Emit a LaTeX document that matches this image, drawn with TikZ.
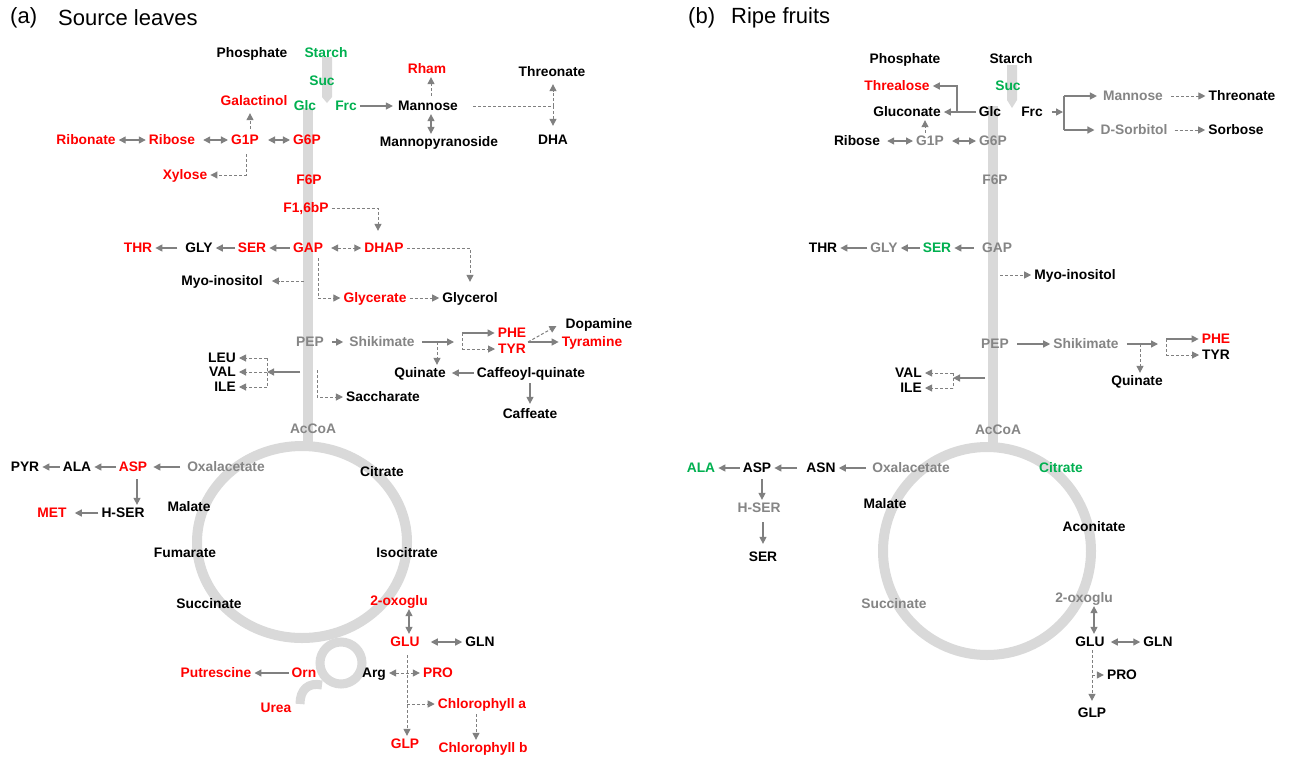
\documentclass[tikz,border=0pt]{standalone}
\usepackage{fontspec}
\setmainfont{Liberation Sans}
\usetikzlibrary{arrows.meta,calc}
\definecolor{cred}{HTML}{FF0000}
\definecolor{cgreen}{HTML}{00B050}
\definecolor{cgray}{HTML}{858585}
\definecolor{cline}{HTML}{808080}
\definecolor{cring}{HTML}{D9D9D9}
\begin{document}
\begin{tikzpicture}[x=1pt,y=-1pt,>={Triangle[length=7pt,width=7pt]},
 lbl/.style={font=\bfseries\fontsize{13.8}{15}\selectfont,inner sep=3pt,text height=9.9pt,text depth=0pt},
 kn/.style={lbl,text=black}, rn/.style={lbl,text=cred}, gn/.style={lbl,text=cgreen}, yn/.style={lbl,text=cgray},
 arr/.style={draw=cline,line width=1.3pt,->},
 biarr/.style={draw=cline,line width=1.3pt,<->},
 ln/.style={draw=cline,line width=1.3pt},
 dsh/.style={line width=1pt,dash pattern=on 3pt off 2pt},
 ring/.style={draw=cring,line width=10pt},
 panel/.style={font=\fontsize{22}{25}\selectfont,anchor=west,inner sep=0pt}]
\useasboundingbox (0,0) rectangle (1290,756);
\fill[white] (0,0) rectangle (1290,756);
% ---------- panel a backbone
\fill[cring] (322,57) -- (332,57) -- (332,97) -- (327,103) -- (322,97) -- cycle;
\draw[cring,line width=10pt] (308,108) -- (308,447);
\draw[ring] (302,542) ellipse [x radius=105pt,y radius=96pt];
\draw[ring,line width=9pt] (341,663) circle [radius=21pt];
\draw[cring,line width=9pt] (322,685) .. controls (308,682) and (300,690) .. (300,704);
% ---------- panel b backbone
\fill[cring] (1007,65) -- (1017,65) -- (1017,100) -- (1012,108) -- (1007,100) -- cycle;
\draw[cring,line width=10pt] (993,106) -- (993,448);
\draw[ring] (987,551) circle [radius=104pt];
% ---------- titles
\node[panel] (aTag) at (10,18) {(a)};
\node[panel] (aHead) at (58,18) {Source leaves};
\node[panel] (bTag) at (688,18) {(b)};
\node[panel] (bHead) at (731,18) {Ripe fruits};
% ---------- panel a nodes
\node[kn] (aPhos) at (252,53) {Phosphate};
\node[gn] (aStarch) at (326,53) {Starch};
\node[gn] (aSuc) at (322,81) {Suc};
\node[gn] (aGlc) at (305,106) {Glc};
\node[gn] (aFrc) at (346,106) {Frc};
\node[kn] (aMan) at (428,106) {Mannose};
\node[rn] (aRham) at (427,69) {Rham};
\node[kn] (aThreo) at (552,72) {Threonate};
\node[kn] (aDHA) at (553,140) {DHA};
\node[kn] (aMpyr) at (439,142) {Mannopyranoside};
\node[rn] (aGalac) at (254,101) {Galactinol};
\node[rn] (aRibn) at (86,140) {Ribonate};
\node[rn] (aRib) at (172,140) {Ribose};
\node[rn] (aGonep) at (245,140) {G1P};
\node[rn] (aGsixp) at (307,140) {G6P};
\node[rn] (aXyl) at (185,175) {Xylose};
\node[rn] (aFsixp) at (309,180) {F6P};
\node[rn] (aFbp) at (306,208) {F1,6bP};
\node[rn] (aDHAP) at (384,248) {DHAP};
\node[rn] (aTHR) at (138,248) {THR};
\node[kn] (aGLY) at (199,248) {GLY};
\node[rn] (aSER) at (252,248) {SER};
\node[rn] (aGAP) at (308,248) {GAP};
\node[kn] (aMyo) at (222,281) {Myo-inositol};
\node[rn] (aGlyc) at (375,298) {Glycerate};
\node[kn] (aGlyl) at (470,298) {Glycerol};
\node[yn] (aPEP) at (310,342) {PEP};
\node[yn] (aShik) at (382,342) {Shikimate};
\node[rn] (aPHE) at (512,333) {PHE};
\node[rn] (aTYR) at (512,349) {TYR};
\node[kn] (aDopa) at (599,324) {Dopamine};
\node[rn] (aTyra) at (592,342) {Tyramine};
\node[kn] (aQuin) at (420,373) {Quinate};
\node[kn] (aCafq) at (531,373) {Caffeoyl-quinate};
\node[kn] (aCafe) at (530,414) {Caffeate};
\node[kn,anchor=east] (aLEU) at (239,358) {LEU};
\node[kn,anchor=east] (aVAL) at (239,372) {VAL};
\node[kn,anchor=east] (aILE) at (239,387) {ILE};
\node[kn] (aSacc) at (383,397) {Saccharate};
\node[yn] (aAcCoA) at (313,429) {AcCoA};
\node[yn] (aOxal) at (226,467) {Oxalacetate};
\node[rn] (aASP) at (133,467) {ASP};
\node[kn] (aALA) at (77,467) {ALA};
\node[kn] (aPYR) at (25,467) {PYR};
\node[rn] (aMET) at (52,513) {MET};
\node[kn] (aHSER) at (123,513) {H-SER};
\node[kn] (aMal) at (189,507) {Malate};
\node[kn] (aFum) at (185,553) {Fumarate};
\node[kn] (aSucc) at (209,604) {Succinate};
\node[kn] (aCit) at (382,472) {Citrate};
\node[kn] (aIsoc) at (407,553) {Isocitrate};
\node[rn] (aOxog) at (399,601) {2-oxoglu};
\node[rn] (aGLU) at (405,642) {GLU};
\node[kn] (aGLN) at (480,642) {GLN};
\node[kn] (aArg) at (374,673) {Arg};
\node[rn] (aPRO) at (438,673) {PRO};
\node[rn] (aOrn) at (304,673) {Orn};
\node[rn] (aPut) at (216,673) {Putrescine};
\node[rn] (aUrea) at (276,708) {Urea};
\node[rn] (aChla) at (482,704) {Chlorophyll a};
\node[rn] (aChlb) at (483,748) {Chlorophyll b};
\node[rn] (aGLP) at (405,744) {GLP};
% ---------- panel a connectors
\draw[arr,shorten >=2pt] (aFrc) -- (aMan);
\draw[arr,dsh,shorten <=2pt] ([xshift=3pt]aMan.north) -- ([xshift=4pt]aRham.south);
\draw[biarr] ([xshift=3pt]aMan.south) -- ([xshift=-8pt]aMpyr.north);
\coordinate (aMT) at (553,106);
\draw[ln,dsh] ([xshift=12pt]aMan.east) -- (aMT);
\draw[arr,dsh,shorten >=4pt] (aMT) -- (aMT |- aThreo.south);
\draw[arr,dsh,shorten >=6pt] (aMT) -- (aMT |- aDHA.north);
\draw[biarr] (aRibn) -- (aRib);
\draw[biarr,shorten <=5pt] (aRib) -- (aGonep);
\draw[biarr,shorten <=6pt] (aGonep) -- (aGsixp);
\draw[arr,dsh,shorten <=3pt,shorten >=4pt] ([xshift=5pt]aGonep.north) -- ([xshift=-4pt]aGalac.south);
\draw[arr,dsh,shorten <=6pt] ([xshift=1pt]aGonep.south) |- (aXyl.east);
\draw[arr,dsh,shorten >=9pt] (aFbp.east) -| ([xshift=-6pt]aDHAP.north);
\draw[biarr,dsh,shorten <=5pt] (aGAP) -- (aDHAP);
\draw[arr] (aGAP) -- (aSER);
\draw[arr] (aSER) -- (aGLY);
\draw[arr,shorten <=5pt] (aGLY) -- (aTHR);
\coordinate (aMyoS) at (304,281);
\draw[arr,dsh,shorten >=6pt] (aMyoS) -- (aMyo.east);
\draw[arr,dsh,shorten <=2pt] ([xshift=10pt]aGAP.south) |- (aGlyc.west);
\draw[arr,dsh,shorten >=8pt] (aDHAP.east) -| (aGlyl.north);
\draw[arr,dsh] (aGlyc) -- (aGlyl);
\draw[arr,shorten <=5pt,shorten >=3pt] (aPEP) -- (aShik);
\coordinate (aBr) at (462,342);
\coordinate (aSq) at (437,342);
\draw[arr,shorten <=4pt,shorten >=8pt] (aShik) -- (aBr);
\draw[arr,dsh] (aSq) -- (aSq |- aQuin.north);
\draw[ln,dsh] (aBr |- aPHE) -- (aBr |- aTYR);
\draw[arr] (aBr |- aPHE) -- (aPHE.west);
\draw[arr,dsh] (aBr |- aTYR) -- (aTYR.west);
\coordinate (aPT) at (528,342);
\draw[arr,dsh] (aPT) -- ([xshift=-6pt,yshift=-2pt]aDopa.west);
\draw[arr] (aPT) -- (aTyra.west);
\draw[arr,shorten >=3pt] (aCafq) -- (aQuin);
\draw[arr,shorten <=2pt,shorten >=2pt] ([xshift=-1pt]aCafq.south) -- (aCafe.north);
\coordinate (aLS) at (300,372);
\coordinate (aLB) at (267,372);
\draw[arr] (aLS) -- (aLB);
\draw[ln,dsh] (aLB |- aLEU) -- (aLB |- aILE);
\draw[arr,dsh] (aLB |- aLEU) -- (aLEU.east);
\draw[arr,dsh] (aLB |- aVAL) -- (aVAL.east);
\draw[arr,dsh] (aLB |- aILE) -- (aILE.east);
\coordinate (aSa) at (317,370);
\draw[arr,dsh] (aSa) |- (aSacc.west);
\draw[arr,shorten <=4pt,shorten >=3pt] (aOxal) -- (aASP);
\draw[arr] (aASP) -- (aALA);
\draw[arr] (aALA) -- (aPYR);
\draw[arr,shorten <=4pt] ([xshift=4pt]aASP.south) -- ([xshift=14pt]aHSER.north);
\draw[arr,shorten >=5pt] (aHSER) -- (aMET);
\draw[biarr] ([xshift=10pt]aOxog.south) -- ([xshift=4pt]aGLU.north);
\draw[biarr,shorten <=8pt] (aGLU) -- (aGLN);
\draw[arr,dsh,shorten <=5pt] ([xshift=2pt]aGLU.south) -- ([xshift=2pt]aGLP.north);
\draw[biarr,dsh] (aArg) -- (aPRO);
\coordinate (aCh) at (407,704);
\draw[arr,dsh] (aCh) -- (aChla.west);
\draw[arr,dsh,shorten <=2pt] ([xshift=-6pt]aChla.south) -- ([xshift=-7pt]aChlb.north);
\draw[arr] (aOrn) -- (aPut);
% ---------- panel b nodes
\node[kn] (bPhos) at (905,59) {Phosphate};
\node[kn] (bStarch) at (1011,59) {Starch};
\node[rn] (bThrea) at (897,86) {Threalose};
\node[gn] (bSuc) at (1008,86) {Suc};
\node[kn] (bGlcn) at (907,112) {Gluconate};
\node[kn] (bGlc) at (990,112) {Glc};
\node[kn] (bFrc) at (1032,112) {Frc};
\node[yn] (bMan) at (1133,96) {Mannose};
\node[kn] (bThreo) at (1242,96) {Threonate};
\node[yn] (bSorb) at (1134,130) {D-Sorbitol};
\node[kn] (bSorbo) at (1236,130) {Sorbose};
\node[kn] (bRib) at (857,141) {Ribose};
\node[yn] (bGonep) at (930,141) {G1P};
\node[yn] (bGsixp) at (993,141) {G6P};
\node[yn] (bFsixp) at (995,180) {F6P};
\node[kn] (bTHR) at (823,248) {THR};
\node[yn] (bGLY) at (884,248) {GLY};
\node[gn] (bSER) at (937,248) {SER};
\node[yn] (bGAP) at (997,248) {GAP};
\node[kn] (bMyo) at (1075,275) {Myo-inositol};
\node[yn] (bPEP) at (995,344) {PEP};
\node[yn] (bShik) at (1086,344) {Shikimate};
\node[rn] (bPHE) at (1216,339) {PHE};
\node[kn] (bTYR) at (1216,355) {TYR};
\node[kn] (bQuin) at (1137,381) {Quinate};
\node[kn,anchor=east] (bVAL) at (925,373) {VAL};
\node[kn,anchor=east] (bILE) at (925,388) {ILE};
\node[yn] (bAcCoA) at (998,430) {AcCoA};
\node[gn] (bALA) at (701,468) {ALA};
\node[kn] (bASP) at (757,468) {ASP};
\node[kn] (bASN) at (821,468) {ASN};
\node[yn] (bOxal) at (911,468) {Oxalacetate};
\node[gn] (bCit) at (1061,468) {Citrate};
\node[kn] (bMal) at (885,504) {Malate};
\node[kn] (bAcon) at (1094,527) {Aconitate};
\node[yn] (bHSER) at (759,508) {H-SER};
\node[kn] (bSERt) at (763,557) {SER};
\node[yn] (bSucc) at (894,604) {Succinate};
\node[yn] (bOxog) at (1084,598) {2-oxoglu};
\node[kn] (bGLU) at (1090,642) {GLU};
\node[kn] (bGLN) at (1158,642) {GLN};
\node[kn] (bPRO) at (1122,675) {PRO};
\node[kn] (bGLP) at (1092,713) {GLP};
% ---------- panel b connectors
\coordinate (bJ) at (957,112);
\draw[ln] (bGlc.west) -- (bJ);
\draw[arr] (bJ) |- (bThrea.east);
\draw[arr] (bJ) -- (bGlcn.east);
\draw[arr,dsh] ([xshift=-5pt]bGonep.north) -- ([xshift=18pt]bGlcn.south);
\draw[biarr,shorten <=4pt] (bRib) -- (bGonep);
\draw[biarr,shorten <=5pt] (bGonep) -- (bGsixp);
\coordinate (bFb) at (1064,112);
\draw[arr,shorten <=6pt,shorten >=1pt] (bFrc) -- (bFb);
\draw[ln] (bFb |- bMan) -- (bFb |- bSorb);
\draw[arr,shorten >=3pt] (bFb |- bMan) -- (bMan.west);
\draw[arr,shorten >=3pt] (bFb |- bSorb) -- (bSorb.west);
\draw[arr,dsh,shorten <=5pt] (bMan) -- (bThreo);
\draw[arr,dsh,shorten <=4pt] (bSorb) -- (bSorbo);
\draw[arr,shorten <=5pt] (bGAP) -- (bSER);
\draw[arr] (bSER) -- (bGLY);
\draw[arr] (bGLY) -- (bTHR);
\coordinate (bMyS) at (1000,275);
\draw[arr,dsh] (bMyS) -- (bMyo.west);
\draw[arr,shorten <=5pt] (bPEP) -- (bShik);
\coordinate (bBr) at (1166,344);
\coordinate (bSq) at (1140,344);
\draw[arr,shorten <=5pt,shorten >=8pt] (bShik) -- (bBr);
\draw[arr,dsh] (bSq) -- (bSq |- bQuin.north);
\draw[ln,dsh] (bBr |- bPHE) -- (bBr |- bTYR);
\draw[arr] (bBr |- bPHE) -- (bPHE.west);
\draw[arr,dsh] (bBr |- bTYR) -- (bTYR.west);
\coordinate (bVs) at (985,378);
\coordinate (bVb) at (953,378);
\draw[arr] (bVs) -- (bVb);
\draw[ln,dsh] (bVb |- bVAL) -- (bVb |- bILE);
\draw[arr,dsh] (bVb |- bVAL) -- (bVAL.east);
\draw[arr,dsh] (bVb |- bILE) -- (bILE.east);
\draw[arr,shorten <=3pt] (bOxal) -- (bASN);
\draw[arr,shorten <=6pt] (bASN) -- (bASP);
\draw[arr] (bASP) -- (bALA);
\draw[arr,shorten <=3pt] ([xshift=5pt]bASP.south) -- ([xshift=3pt]bHSER.north);
\draw[arr,shorten <=6pt,shorten >=5pt] ([xshift=4pt]bHSER.south) -- (bSERt.north);
\draw[biarr] ([xshift=10pt]bOxog.south) -- ([xshift=4pt]bGLU.north);
\draw[biarr,shorten <=3pt] (bGLU) -- (bGLN);
\draw[arr,dsh,shorten >=4pt] ([xshift=2pt]bGLU.south) -- (bGLP.north);
\coordinate (bPr) at (1092,675);
\draw[arr,dsh] (bPr) -- (bPRO.west);
\end{tikzpicture}
\end{document}
